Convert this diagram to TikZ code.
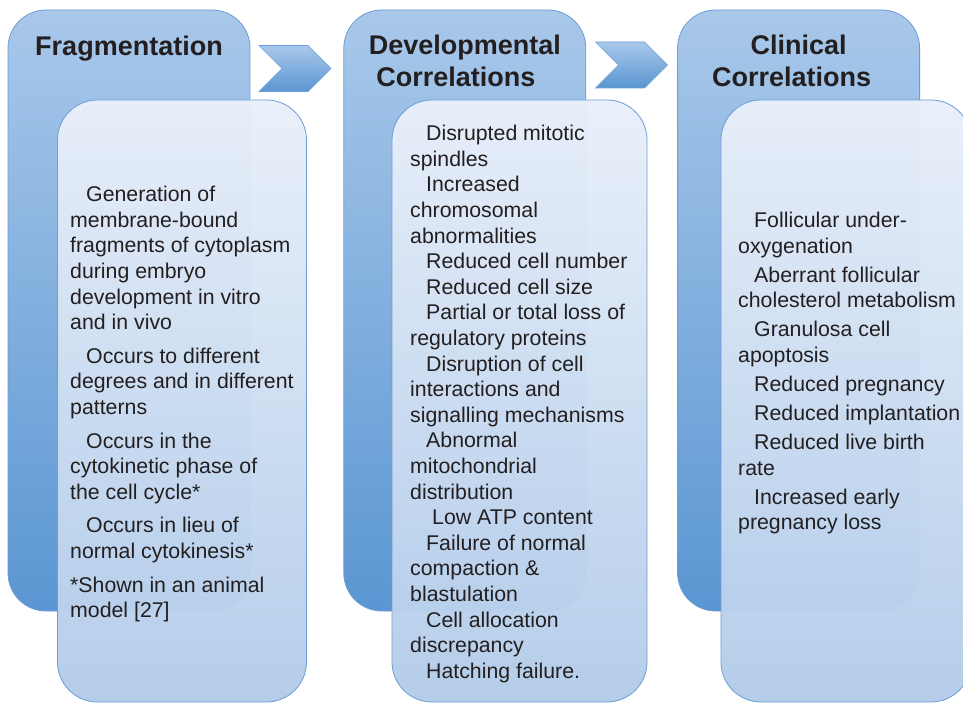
\documentclass[tikz,border=0pt]{standalone}
\usepackage{fontspec}
\setmainfont{Liberation Sans}
\usetikzlibrary{positioning,shapes.symbols}
\definecolor{bluetop}{HTML}{A9C8EA}
\definecolor{bluebot}{HTML}{5A96D2}
\definecolor{paletop}{HTML}{E9F0FA}
\definecolor{palebot}{HTML}{B3CCEA}
\definecolor{rim}{HTML}{6C9DD4}
\definecolor{ink}{HTML}{231F20}
\newcommand{\ind}{\hspace*{16pt}}
\tikzset{
  panel/.style   = {draw=rim, line width=0.8pt, rounded corners=38pt,
                    minimum width=242pt, minimum height=601pt,
                    top color=bluetop, bottom color=bluebot},
  card/.style    = {draw=rim, line width=0.8pt, rounded corners=40pt,
                    minimum height=602pt, fill opacity=0.975,
                    top color=paletop, bottom color=palebot},
  heading/.style = {align=center, inner sep=0pt, text=ink,
                    font=\fontsize{27}{32}\selectfont\bfseries},
  bullets/.style = {align=left, inner sep=0pt, text=ink, anchor=north west,
                    font=\fontsize{21.3}{25.6}\selectfont},
  chevron/.style = {signal, signal from=west, signal to=east,
                    signal pointer angle=90, inner sep=0pt,
                    minimum width=72pt, minimum height=46pt,
                    draw=rim, line width=0.6pt,
                    top color=bluetop, bottom color=bluebot}
}
\begin{document}
\begin{tikzpicture}[x=1pt, y=-1pt]
    \useasboundingbox (0,0) rectangle (963,703);

    % back panels with the titles
    \node[panel] (frag) at (129,310.5) {};
    \node[panel, right=93pt of frag] (dev) {};
    \node[panel, right=91pt of dev] (clin) {};

    \node[heading, below=26pt of frag.north] (fragtitle) {Fragmentation};
    \node[heading, below=25pt of dev.north] (devtitle)
        {Developmental\\Correlations\hspace*{18pt}};
    \node[heading, below=25pt of clin.north] (clintitle)
        {Clinical\\Correlations\hspace*{14pt}};

    % chevrons between the columns
    \node[chevron] (step1) at (295,68.5) {};
    \node[chevron] (step2) at (631.5,65) {};

    % front cards
    \node[card, minimum width=249pt] (fragcard) at (182,401) {};
    \node[card, minimum width=255pt] (devcard) at (519.5,401) {};
    \node[card, minimum width=250pt] (clincard) at (846,401) {};

    \node[bullets] (fraglist) at (70,186) {%
        \ind Generation of\\ membrane-bound\\ fragments of cytoplasm\\
        during embryo\\ development in vitro\\ and in vivo\\[8pt]
        \ind Occurs to different\\ degrees and in different\\ patterns\\[8pt]
        \ind Occurs in the\\ cytokinetic phase of\\ the cell cycle*\\[8pt]
        \ind Occurs in lieu of\\ normal cytokinesis*\\[8pt]
        *Shown in an animal\\ model [27]};

    \node[bullets] (devlist) at (410,125) {%
        \ind Disrupted mitotic\\ spindles\\
        \ind Increased\\ chromosomal\\ abnormalities\\
        \ind Reduced cell number\\
        \ind Reduced cell size\\
        \ind Partial or total loss of\\ regulatory proteins\\
        \ind Disruption of cell\\ interactions and\\ signalling mechanisms\\
        \ind Abnormal\\ mitochondrial\\ distribution\\
        \hspace*{22pt}Low ATP content\\
        \ind Failure of normal\\ compaction \&\\ blastulation\\
        \ind Cell allocation\\ discrepancy\\
        \ind Hatching failure.};

    \node[bullets] (clinlist) at (738,212) {%
        \ind Follicular under-\\ oxygenation\\[3.4pt]
        \ind Aberrant follicular\\ cholesterol metabolism\\[3.4pt]
        \ind Granulosa cell\\ apoptosis\\[3.4pt]
        \ind Reduced pregnancy\\[3.4pt]
        \ind Reduced implantation\\[3.4pt]
        \ind Reduced live birth\\ rate\\[3.4pt]
        \ind Increased early\\ pregnancy loss};
\end{tikzpicture}
\end{document}
